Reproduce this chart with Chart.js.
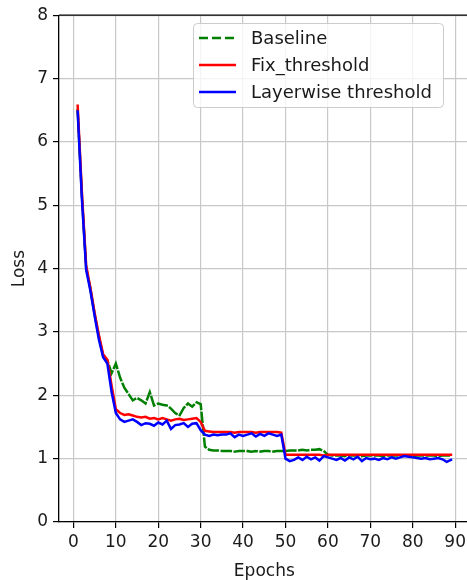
<!DOCTYPE html>
<html>
<head>
<meta charset="utf-8">
<script src="https://cdn.jsdelivr.net/npm/chart.js@4.4.0/dist/chart.umd.min.js"></script>
<style>
  html, body { margin:0; padding:0; background:#fff; overflow:hidden; }
  #wrap { width:470px; height:580px; }
</style>
</head>
<body>
<div id="wrap"><canvas id="lossChart" width="470" height="580"></canvas></div>
<script>
// ================== DATA ==================
const epochs = Array.from({length: 89}, (_, i) => i + 1);

const baseline = [
  6.50, 5.15, 4.02, 3.68, 3.28, 2.93, 2.62, 2.55, 2.35, 2.50,
  2.28, 2.12, 2.02, 1.92, 1.96, 1.92, 1.87, 2.05, 1.84, 1.87,
  1.85, 1.84, 1.79, 1.72, 1.68, 1.80, 1.87, 1.82, 1.89, 1.86,
  1.19, 1.14, 1.13, 1.13, 1.12, 1.12, 1.12, 1.11, 1.12, 1.12,
  1.12, 1.11, 1.12, 1.11, 1.12, 1.12, 1.11, 1.12, 1.12, 1.12,
  1.13, 1.13, 1.13, 1.14, 1.13, 1.14, 1.14, 1.15, 1.12, 1.06,
  1.05, 1.05, 1.05, 1.04, 1.05, 1.05, 1.05, 1.04, 1.05, 1.05,
  1.05, 1.05, 1.04, 1.05, 1.05, 1.05, 1.05, 1.05, 1.05, 1.04,
  1.05, 1.05, 1.05, 1.05, 1.05, 1.04, 1.05, 1.05, 1.05
];

const fixThreshold = [
  6.57, 5.20, 4.05, 3.70, 3.30, 2.95, 2.65, 2.56, 2.15, 1.78,
  1.72, 1.69, 1.70, 1.68, 1.66, 1.65, 1.66, 1.63, 1.64, 1.62,
  1.64, 1.62, 1.60, 1.62, 1.63, 1.61, 1.62, 1.63, 1.64, 1.58,
  1.44, 1.43, 1.42, 1.42, 1.42, 1.42, 1.42, 1.41, 1.42, 1.42,
  1.42, 1.42, 1.41, 1.42, 1.42, 1.42, 1.42, 1.42, 1.41, 1.06,
  1.06, 1.06, 1.06, 1.06, 1.06, 1.06, 1.06, 1.06, 1.05, 1.06,
  1.06, 1.06, 1.06, 1.06, 1.06, 1.06, 1.06, 1.06, 1.06, 1.06,
  1.06, 1.06, 1.06, 1.06, 1.06, 1.06, 1.06, 1.06, 1.06, 1.06,
  1.06, 1.06, 1.06, 1.06, 1.06, 1.06, 1.06, 1.06, 1.06
];

const layerwise = [
  6.48, 5.10, 3.98, 3.65, 3.25, 2.88, 2.60, 2.50, 2.05, 1.72,
  1.62, 1.58, 1.60, 1.62, 1.58, 1.53, 1.56, 1.55, 1.52, 1.57,
  1.54, 1.60, 1.47, 1.53, 1.54, 1.56, 1.50, 1.55, 1.56, 1.45,
  1.38, 1.36, 1.38, 1.37, 1.38, 1.38, 1.40, 1.34, 1.38, 1.36,
  1.38, 1.40, 1.35, 1.39, 1.36, 1.40, 1.38, 1.36, 1.38, 1.00,
  0.96, 0.98, 1.02, 0.98, 1.03, 0.99, 1.02, 0.97, 1.04, 1.02,
  1.00, 0.98, 1.01, 0.97, 1.02, 0.99, 1.03, 0.96, 1.01, 0.99,
  1.00, 0.98, 1.01, 0.99, 1.02, 1.00, 1.02, 1.04, 1.03, 1.02,
  1.01, 1.00, 1.01, 0.99, 1.00, 1.01, 0.99, 0.95, 0.98
];

const xTicks = [0, 10, 20, 30, 40, 50, 60, 70, 80, 90];
const yTicks = [0, 1, 2, 3, 4, 5, 6, 7, 8];

// ================== STYLE ==================
const FONT = "'DejaVu Sans', sans-serif";
const toPoints = arr => arr.map((v, i) => ({x: epochs[i], y: v}));

// top spine + matplotlib-like legend box
const framePlugin = {
  id: "frame",
  afterDraw(chart){
    const {ctx, chartArea: a} = chart;
    ctx.save();
    ctx.strokeStyle = "#000";
    ctx.lineWidth = 1.3;
    ctx.beginPath();
    ctx.moveTo(a.left, a.top);
    ctx.lineTo(a.right, a.top);
    ctx.stroke();

    // legend
    const bx = 193, by = 23, bw = 250, bh = 84, r = 4;
    ctx.beginPath();
    ctx.roundRect(bx + 0.5, by + 0.5, bw, bh, r);
    ctx.fillStyle = "rgba(255,255,255,0.8)";
    ctx.fill();
    ctx.strokeStyle = "#cccccc";
    ctx.lineWidth = 1;
    ctx.stroke();

    const rows = [38, 65, 92];
    ctx.font = "18px " + FONT;
    ctx.textBaseline = "middle";
    ctx.textAlign = "left";
    chart.data.datasets.forEach((ds, k) => {
      const y = rows[k];
      ctx.beginPath();
      ctx.setLineDash(ds.borderDash || []);
      ctx.strokeStyle = ds.borderColor;
      ctx.lineWidth = ds.borderWidth;
      ctx.moveTo(199, y);
      ctx.lineTo(236, y);
      ctx.stroke();
      ctx.setLineDash([]);
      ctx.fillStyle = "#1a1a1a";
      ctx.fillText(ds.label, 251, y + 1);
    });
    ctx.restore();
  }
};

// ================== CHART ==================
const ctx = document.getElementById("lossChart").getContext("2d");
window.lossChart = new Chart(ctx, {
  type: "line",
  data: {
    datasets: [
      {label: "Baseline", data: toPoints(baseline), borderColor: "#008000", borderWidth: 2.5, borderDash: [9, 4], order: 3},
      {label: "Fix_threshold", data: toPoints(fixThreshold), borderColor: "#ff0000", borderWidth: 2.5, order: 2},
      {label: "Layerwise threshold", data: toPoints(layerwise), borderColor: "#0000ff", borderWidth: 2.5, order: 1}
    ]
  },
  options: {
    responsive: false,
    animation: false,
    devicePixelRatio: 1,
    layout: {padding: {left: 0, top: 13, right: 0, bottom: 0}},
    elements: {point: {radius: 0}, line: {tension: 0, borderCapStyle: "square"}},
    plugins: {legend: {display: false}, tooltip: {enabled: false}},
    scales: {
      x: {
        type: "linear",
        min: -3.4,
        max: 93.4,
        afterBuildTicks: s => { s.ticks = xTicks.map(v => ({value: v})); },
        afterFit: s => { s.height = 58; },
        ticks: {font: {family: FONT, size: 17}, color: "#1a1a1a", padding: 4, maxRotation: 0},
        grid: {color: "#c8c8c8", lineWidth: 1.2, tickColor: "#000", tickLength: 6},
        border: {color: "#000", width: 1.3},
        title: {display: true, text: "Epochs", font: {family: FONT, size: 17}, color: "#1a1a1a", padding: {top: 0, bottom: -2}}
      },
      y: {
        min: 0,
        max: 8,
        afterBuildTicks: s => { s.ticks = yTicks.map(v => ({value: v})); },
        afterFit: s => { s.width = 59; },
        ticks: {font: {family: FONT, size: 17}, color: "#1a1a1a", padding: 5},
        grid: {color: "#c8c8c8", lineWidth: 1.2, tickColor: "#000", tickLength: 6},
        border: {color: "#000", width: 1.3},
        title: {display: true, text: "Loss", font: {family: FONT, size: 17}, color: "#1a1a1a", padding: {top: 9, bottom: 0}}
      }
    }
  },
  plugins: [framePlugin]
});
</script>
</body>
</html>
